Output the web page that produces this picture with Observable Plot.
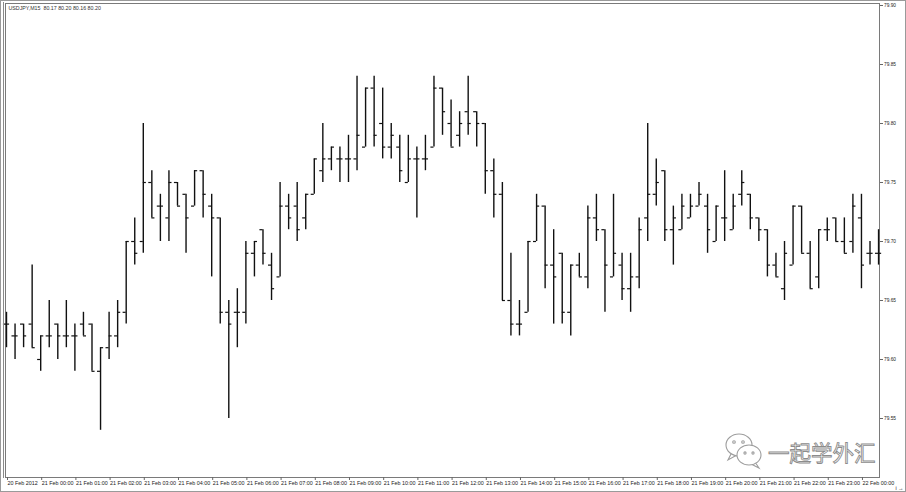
<!DOCTYPE html>
<html>
<head>
<meta charset="utf-8">
<script src="https://cdn.jsdelivr.net/npm/d3@7"></script>
<script src="https://cdn.jsdelivr.net/npm/@observablehq/plot@0.6"></script>
<style>
  html, body { margin: 0; padding: 0; background: #fff; }
  #wrap { position: relative; width: 906px; height: 492px; overflow: hidden; }
  #chart svg { display: block; }
  .edge { position: absolute; pointer-events: none; }
</style>
</head>
<body>
<div id="wrap">
  <div id="chart"></div>
  <div class="edge" style="left:0;top:0;width:904px;height:490px;border:1px solid #9a9a9a;"></div>
  <div class="edge" style="left:3px;top:2px;width:0;height:476px;border-left:1px solid #8a8a8a;"></div>
  <svg class="edge" style="left:722px;top:430px" width="160" height="44">
    <g fill="none" stroke="#9d9d9d" stroke-width="1.1">
      <ellipse cx="17" cy="15" rx="13" ry="11"/>
      <path d="M9 24 L6 30 L14 25.5"/>
      <ellipse cx="27" cy="25" rx="12" ry="10" fill="#fff"/>
      <path d="M34 33.5 L37 38 L30 34.5"/>
      <circle cx="12" cy="12" r="1.3"/><circle cx="21" cy="12" r="1.3"/>
      <circle cx="23" cy="23" r="1.1"/><circle cx="31" cy="23" r="1.1"/>
    </g>
    <text x="46" y="31" font-family="Noto Sans CJK SC" font-size="21.5" fill="#fff" stroke="#8c8c8c" stroke-width="0.9">一起学外汇</text>
  </svg>
</div>
<script>
const header = "USDJPY,M15  80.17 80.20 80.16 80.20";
const opens = [
  79.63,79.62,79.63,79.63,79.60,79.62,79.63,79.62,79.62,79.63,
  79.63,79.59,79.61,79.62,79.64,79.70,79.70,79.75,79.73,79.72,
  79.75,79.74,79.73,79.76,79.73,79.72,79.64,79.64,79.64,79.69,
  79.71,79.68,79.67,79.73,79.73,79.72,79.74,79.76,79.77,79.77,
  79.77,79.77,79.78,79.83,79.80,79.78,79.78,79.75,79.77,79.77,
  79.78,79.83,79.80,79.79,79.81,79.81,79.80,79.76,79.74,79.65,
  79.63,79.64,79.70,79.73,79.68,79.69,79.64,79.68,79.67,79.72,
  79.71,79.67,79.68,79.66,79.67,79.72,79.74,79.76,79.71,79.71,
  79.72,79.73,79.73,79.70,79.72,79.71,79.74,79.74,79.72,79.71,
  79.68,79.66,79.68,79.73,79.69,79.67,79.71,79.72,79.70,79.70,
  79.72,79.69,79.69];
const highs = [
  79.64,79.63,79.63,79.68,79.62,79.65,79.63,79.65,79.63,79.64,
  79.63,79.61,79.64,79.65,79.70,79.72,79.80,79.76,79.74,79.76,
  79.75,79.74,79.76,79.76,79.74,79.72,79.65,79.66,79.70,79.70,
  79.71,79.69,79.75,79.74,79.75,79.74,79.77,79.80,79.78,79.78,
  79.79,79.84,79.83,79.84,79.83,79.80,79.79,79.79,79.78,79.79,
  79.84,79.83,79.82,79.81,79.84,79.81,79.80,79.77,79.75,79.69,
  79.65,79.70,79.74,79.73,79.71,79.69,79.68,79.69,79.73,79.74,
  79.71,79.74,79.69,79.69,79.72,79.80,79.77,79.76,79.73,79.74,
  79.74,79.75,79.74,79.73,79.76,79.74,79.76,79.74,79.72,79.71,
  79.69,79.70,79.73,79.73,79.70,79.71,79.72,79.72,79.72,79.74,
  79.74,79.70,79.71];
const lows = [
  79.61,79.60,79.61,79.61,79.59,79.61,79.60,79.61,79.59,79.62,
  79.59,79.54,79.60,79.61,79.63,79.68,79.69,79.72,79.70,79.70,
  79.73,79.69,79.73,79.72,79.67,79.63,79.55,79.61,79.63,79.67,
  79.68,79.65,79.67,79.71,79.70,79.71,79.74,79.75,79.76,79.75,
  79.75,79.76,79.78,79.78,79.77,79.77,79.75,79.75,79.72,79.76,
  79.78,79.79,79.78,79.78,79.79,79.78,79.74,79.72,79.65,79.62,
  79.62,79.64,79.70,79.66,79.63,79.63,79.62,79.67,79.66,79.70,
  79.64,79.67,79.65,79.64,79.66,79.70,79.73,79.70,79.68,79.71,
  79.72,79.73,79.69,79.70,79.70,79.71,79.73,79.71,79.70,79.67,
  79.67,79.65,79.68,79.69,79.66,79.66,79.70,79.70,79.69,79.69,
  79.66,79.68,79.68];
const closes = [
  79.63,79.62,79.62,79.61,79.62,79.62,79.62,79.62,79.62,79.62,
  79.59,79.61,79.62,79.64,79.70,79.69,79.75,79.72,79.73,79.75,
  79.73,79.72,79.76,79.74,79.72,79.64,79.63,79.64,79.69,79.70,
  79.69,79.66,79.73,79.72,79.71,79.74,79.77,79.77,79.78,79.77,
  79.77,79.79,79.83,79.79,79.78,79.79,79.76,79.77,79.77,79.77,
  79.83,79.81,79.78,79.80,79.80,79.80,79.76,79.74,79.65,79.63,
  79.63,79.70,79.73,79.68,79.67,79.64,79.68,79.67,79.72,79.71,
  79.68,79.69,79.66,79.67,79.71,79.74,79.75,79.71,79.72,79.73,
  79.73,79.74,79.71,79.73,79.72,79.73,79.75,79.72,79.71,79.68,
  79.67,79.69,79.73,79.69,79.66,79.71,79.71,79.70,79.69,79.73,
  79.68,79.69,79.69];
const yTicks = [79.55, 79.60, 79.65, 79.70, 79.75, 79.80, 79.85, 79.90];
const xLabels = ["20 Feb 2012",
  "21 Feb 00:00","21 Feb 01:00","21 Feb 02:00","21 Feb 03:00","21 Feb 04:00","21 Feb 05:00",
  "21 Feb 06:00","21 Feb 07:00","21 Feb 08:00","21 Feb 09:00","21 Feb 10:00","21 Feb 11:00",
  "21 Feb 12:00","21 Feb 13:00","21 Feb 14:00","21 Feb 15:00","21 Feb 16:00","21 Feb 17:00",
  "21 Feb 18:00","21 Feb 19:00","21 Feb 20:00","21 Feb 21:00","21 Feb 22:00","21 Feb 23:00",
  "22 Feb 00:00"];
const barsPerLabel = 4; // M15 bars, one label per hour

const bars = opens.map((o, i) => ({i, open: o, high: highs[i], low: lows[i], close: closes[i]}));
const xTickIdx = xLabels.map((_, k) => k * barsPerLabel);
const half = 0.36;
const ink = "#111";

const chart = Plot.plot({
  width: 906,
  height: 492,
  marginLeft: 5,
  marginRight: 27,
  marginTop: 3,
  marginBottom: 15,
  style: {fontFamily: "Liberation Sans", background: "#fff", color: "#222"},
  x: {domain: [-0.117, 102.11]},
  y: {domain: [79.50, 79.9017]},
  marks: [
    Plot.frame({stroke: "#7a7a7a"}),
    Plot.ruleX(bars, {x: "i", y1: "low", y2: "high", stroke: ink, strokeWidth: 1.4}),
    Plot.ruleY(bars, {y: "open", x1: d => d.i - half, x2: "i", stroke: ink, strokeWidth: 1.2}),
    Plot.ruleY(bars, {y: "close", x1: "i", x2: d => d.i + half, stroke: ink, strokeWidth: 1.2}),
    Plot.axisY(yTicks, {anchor: "right", tickSize: 3, tickPadding: 1.5,
      tickFormat: d => d.toFixed(2), fontSize: 4.8, stroke: "#666"}),
    Plot.axisX(xTickIdx, {anchor: "bottom", tickSize: 3, tickPadding: 0.5,
      tickFormat: (d, k) => xLabels[k], textAnchor: "start", dx: 1, fontSize: 5.4, stroke: "#666"}),
    Plot.text([header], {frameAnchor: "top-left", dx: 3, dy: 3, fontSize: 5.3, fill: "#333", textAnchor: "start", lineAnchor: "top"})
  ]
});
document.getElementById("chart").appendChild(chart);
</script>
</body>
</html>
